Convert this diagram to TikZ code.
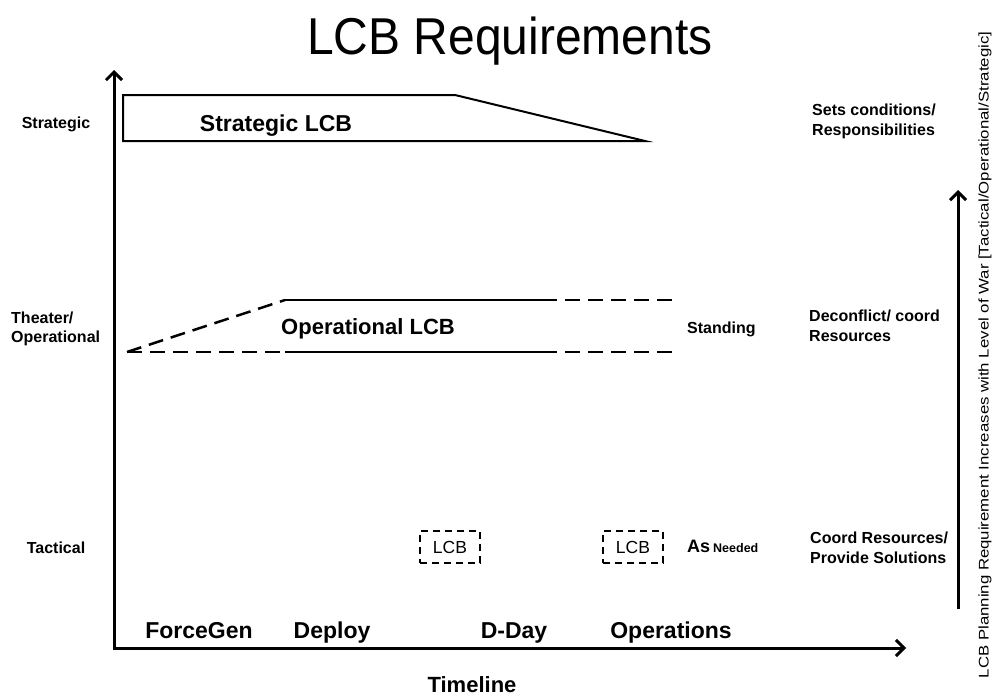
\documentclass[tikz,border=0pt]{standalone}
\usepackage{fontspec}
\setmainfont{Liberation Sans}
\usetikzlibrary{arrows.meta}
\tikzset{
  axisline/.style={line width=3pt,-{Straight Barb[length=8pt,width=16pt,line width=3pt]}},
  bandsolid/.style={line width=2.5pt},
  banddash/.style={line width=2.5pt,dash pattern=on 15pt off 8pt},
  stratbox/.style={line width=2pt,line join=miter},
  lcbbox/.style={draw,line width=1.6pt,dash pattern=on 7pt off 5pt,minimum width=60pt,minimum height=32pt,inner sep=0pt},
  levellabel/.style={font=\bfseries\fontsize{16}{19}\selectfont,align=left,inner sep=0pt},
  rightlabel/.style={font=\bfseries\fontsize{16}{20}\selectfont,align=left,inner sep=0pt,anchor=west},
  timelabel/.style={font=\bfseries\fontsize{23}{26}\selectfont,inner sep=0pt,anchor=base},
  bandlabel/.style={font=\bfseries\fontsize{23}{26}\selectfont,inner sep=0pt,anchor=base},
}
\begin{document}
\begin{tikzpicture}[x=1pt,y=-1pt]
\useasboundingbox[fill=white] (0,0) rectangle (992,696);
% title
\node[inner sep=0pt,anchor=base] (title) at (510,54) {\scalebox{1}[1.08]{\fontsize{48}{50}\selectfont LCB Requirements}};
% axes
\coordinate (origin) at (114,648);
\coordinate (ytop) at (114,70);
\coordinate (xend) at (906,648);
\draw[axisline] (origin) -- (ytop);
\draw[axisline] ([xshift=-1.5pt]origin) -- (xend);
% strategic LCB
\coordinate (s1) at (123,95);
\coordinate (s2) at (455,95);
\coordinate (s3) at (645,141);
\coordinate (s4) at (123,141);
\draw[stratbox] (s4) -- (s1) -- (s2) -- (s3) -- cycle;
\node[bandlabel] (stratlcb) at (276,131) {Strategic LCB};
% operational LCB
\coordinate (o0) at (127,352);
\coordinate (ot1) at (285,300);
\coordinate (ot2) at (542,300);
\coordinate (ot3) at (672,300);
\coordinate (ob1) at (285,352);
\coordinate (ob2) at (542,352);
\coordinate (ob3) at (672,352);
\draw[banddash] (o0) -- (ot1);
\draw[banddash] (o0) -- (ob1);
\draw[bandsolid] (ot1) -- (ot2);
\draw[bandsolid] (ob1) -- (ob2);
\draw[banddash] (ot2) -- (ot3);
\draw[banddash] (ob2) -- (ob3);
\node[bandlabel,font=\bfseries\fontsize{22}{24}\selectfont] (oplcb) at (368,334) {Operational LCB};
\node[font=\bfseries\fontsize{16}{18}\selectfont,anchor=base west,inner sep=0pt] (standing) at (687,333) {Standing};
% tactical LCB boxes
\node[lcbbox] (lcb1) at (450,547) {\fontsize{17.5}{19}\selectfont LCB};
\node[lcbbox] (lcb2) at (633,547) {\fontsize{17.5}{19}\selectfont LCB};
\node[anchor=base west,inner sep=0pt] (asneeded) at (687,552) {\bfseries\fontsize{18}{20}\selectfont As\hspace{3pt}\fontsize{12.5}{14}\selectfont Needed};
% left level labels
\node[levellabel,anchor=base] (lstrat) at (56,128) {Strategic};
\node[levellabel,anchor=west] (ltheater) at (11,329) {Theater/\\Operational};
\node[levellabel,anchor=base] (ltact) at (56,553) {Tactical};
% right labels
\node[rightlabel] (rstrat) at (812,121) {Sets conditions/\\Responsibilities};
\node[rightlabel] (rtheater) at (809,326) {Deconflict/ coord\\Resources};
\node[rightlabel] (rtact) at (810,548) {Coord Resources/\\Provide Solutions};
% right arrow
\coordinate (rbot) at (958,609);
\coordinate (rtop) at (958,190);
\draw[axisline] (rbot) -- (rtop);
\node[rotate=90,inner sep=0pt] (rottext) at (985,355) {\scalebox{1.2}[1]{\fontsize{14}{16}\selectfont LCB Planning Requirement Increases with Level of War [Tactical/Operational/Strategic]}};
% timeline labels
\node[timelabel] (forcegen) at (199,638) {ForceGen};
\node[timelabel] (deploy) at (332,638) {Deploy};
\node[timelabel] (dday) at (514,638) {D-Day};
\node[timelabel] (ops) at (671,638) {Operations};
\node[timelabel,font=\bfseries\fontsize{22}{24}\selectfont] (timeline) at (472,692) {Timeline};
\end{tikzpicture}
\end{document}
